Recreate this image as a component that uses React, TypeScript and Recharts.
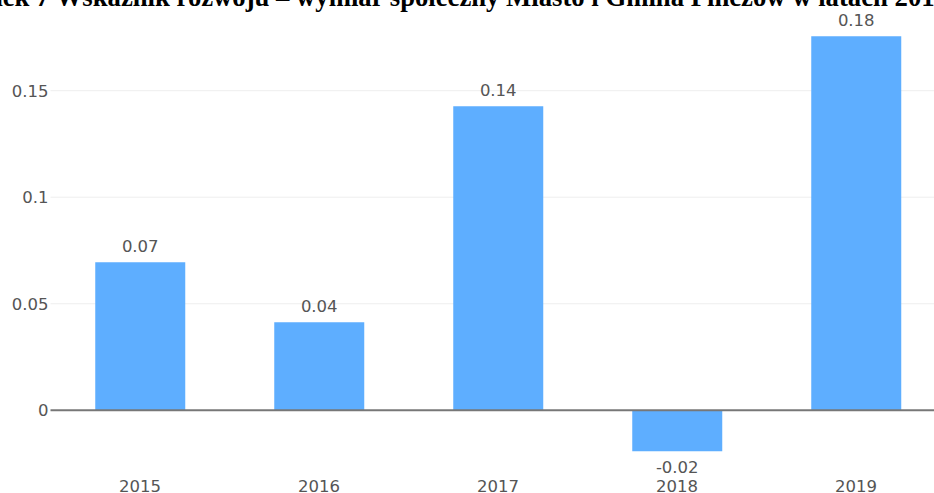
import { BarChart, Bar, XAxis, YAxis, CartesianGrid, ReferenceLine, LabelList } from "recharts";

const years = ["2015", "2016", "2017", "2018", "2019"];
const values = [0.0695, 0.0413, 0.1427, -0.0192, 0.1756];
const yTicks = [0, 0.05, 0.1, 0.15];

const data = years.map((year, i) => ({ year, value: values[i] }));

const font = { fontFamily: "DejaVu Sans", fontSize: 16.5, fill: "#555" };

export default function App() {
  return (
    <div style={{ position: "fixed", left: 0, top: 0, width: 934, height: 493, overflow: "hidden", background: "#fff" }}>
      <div
        style={{
          position: "absolute",
          left: -69,
          top: -16.5,
          whiteSpace: "nowrap",
          fontFamily: "Liberation Serif",
          fontWeight: "bold",
          fontSize: 26.7,
          lineHeight: "27px",
          color: "#000",
        }}
      >
        Rysunek 7 Wskaźnik rozwoju – wymiar społeczny Miasto i Gmina Pińczów w latach 2015-2019
      </div>
      <BarChart
        width={1000}
        height={493}
        data={data}
        margin={{ top: 14, right: 54.5, bottom: 0, left: 0 }}
        barCategoryGap="25%"
      >
        <CartesianGrid
          vertical={false}
          stroke="#eee"
          horizontalValues={yTicks.filter((t) => t !== 0)}
        />
        <XAxis
          dataKey="year"
          axisLine={false}
          tickLine={false}
          tickMargin={19}
          height={38}
          tick={font}
        />
        <YAxis
          width={50.5}
          domain={[-0.021, 0.186]}
          ticks={yTicks}
          axisLine={false}
          tickLine={false}
          tickSize={2}
          tickMargin={0}
          tick={font}
          tickFormatter={(v: number) => String(v)}
        />
        <ReferenceLine y={0} stroke="#777" strokeWidth={2} />
        <Bar dataKey="value" fill="#5eaeff" isAnimationActive={false}>
          <LabelList
            dataKey="value"
            position="top"
            offset={10}
            style={font}
            formatter={(v: number) => v.toFixed(2)}
          />
        </Bar>
      </BarChart>
    </div>
  );
}
